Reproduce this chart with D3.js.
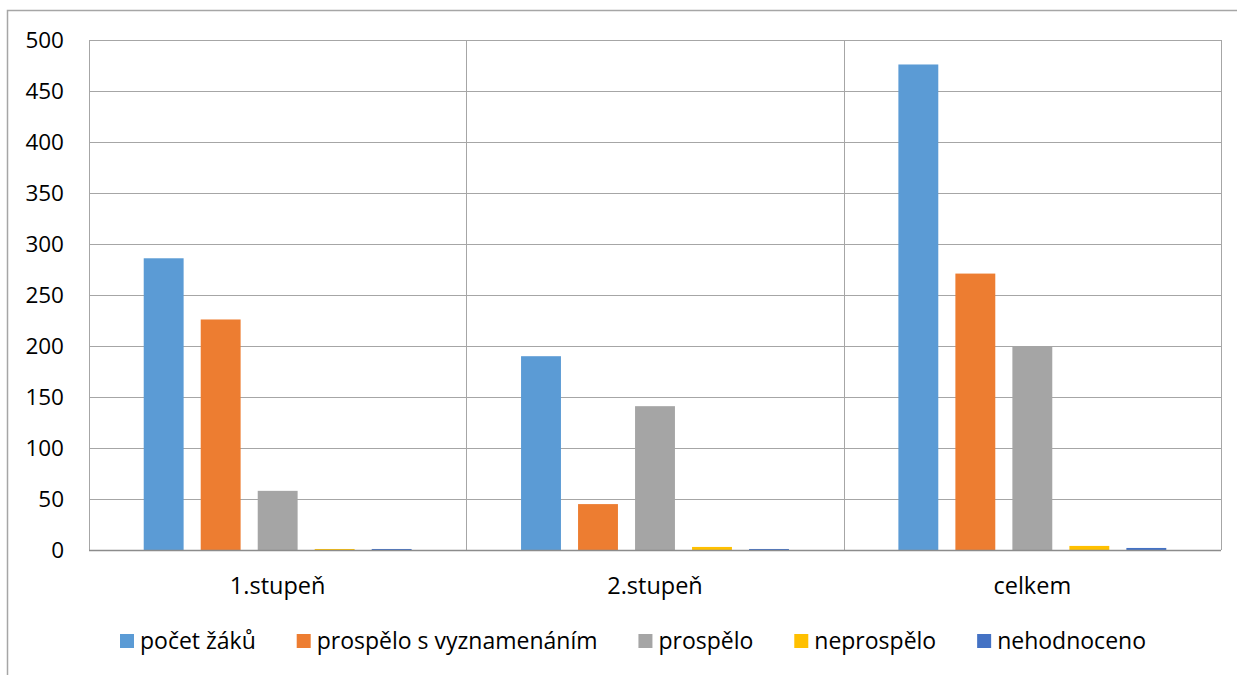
<!DOCTYPE html>
<html>
<head>
<meta charset="utf-8">
<script src="https://cdn.jsdelivr.net/npm/d3@7"></script>
<style>
  body { margin: 0; background: #fff; }
  svg { display: block; font-family: "Open Sans", "Noto Sans", sans-serif; }
</style>
</head>
<body>
<svg class="svg" width="1237" height="675"></svg>
<script>
// kategorie
const categories = ["1.stupeň", "2.stupeň", "celkem"];
const seriesNames = ["počet žáků", "prospělo s vyznamenáním", "prospělo", "neprospělo", "nehodnoceno"];
const seriesColors = ["#5B9BD5", "#ED7D31", "#A5A5A5", "#FFC000", "#4472C4"];

// hodnoty podle kategorií
const pocetZaku = [286, 190, 476];
const vyznamenani = [226, 45, 271];
const prospelo = [58, 141, 200];
const neprospelo = [1, 3, 4];
const nehodnoceno = [1, 1, 2];
const yTicks = [0, 50, 100, 150, 200, 250, 300, 350, 400, 450, 500];

const values = [pocetZaku, vyznamenani, prospelo, neprospelo, nehodnoceno];

const svg = d3.select(".svg");
const W = 1237, H = 675;
const plot = { left: 89, right: 1221, top: 40, bottom: 550 };
const fs = 22.5;

// vnější rámeček
svg.append("path")
    .attr("d", `M7.5,${H} V10.5 H${W}`)
    .attr("fill", "none")
    .attr("stroke", "#A6A6A6")
    .attr("stroke-width", 1.5);

const x0 = d3.scaleBand()
    .domain(categories)
    .range([plot.left, plot.right])
    .padding(0);

const x1 = d3.scaleBand()
    .domain(seriesNames)
    .range([0, x0.bandwidth()])
    .paddingInner(0.3)
    .paddingOuter(0.96);

const y = d3.scaleLinear()
    .domain([0, 500])
    .range([plot.bottom, plot.top]);

// mřížka
svg.append("g").selectAll("line")
    .data(yTicks)
    .enter()
    .append("line")
    .attr("x1", plot.left)
    .attr("x2", plot.right)
    .attr("y1", d => Math.round(y(d)) + 0.5)
    .attr("y2", d => Math.round(y(d)) + 0.5)
    .attr("stroke", "#A6A6A6")
    .attr("stroke-width", 1);

// svislé čáry mezi kategoriemi
svg.append("g").selectAll("line")
    .data(categories.concat(["end"]))
    .enter()
    .append("line")
    .attr("x1", (d, i) => Math.round(plot.left + i * x0.step()) + 0.5)
    .attr("x2", (d, i) => Math.round(plot.left + i * x0.step()) + 0.5)
    .attr("y1", plot.top)
    .attr("y2", plot.bottom)
    .attr("stroke", "#A6A6A6")
    .attr("stroke-width", 1);

// sloupce
const groups = svg.append("g").selectAll("g")
    .data(categories)
    .enter()
    .append("g")
    .attr("transform", d => `translate(${x0(d)},0)`);

groups.selectAll("rect")
    .data((c, ci) => seriesNames.map((s, si) => ({ s, v: values[si][ci], color: seriesColors[si] })))
    .enter()
    .append("rect")
    .attr("x", d => x1(d.s))
    .attr("width", x1.bandwidth())
    .attr("y", d => y(d.v))
    .attr("height", d => y(0) - y(d.v))
    .attr("fill", d => d.color);

// osa x
svg.append("line")
    .attr("x1", plot.left)
    .attr("x2", plot.right)
    .attr("y1", plot.bottom + 0.5)
    .attr("y2", plot.bottom + 0.5)
    .attr("stroke", "#8C8C8C")
    .attr("stroke-width", 1.5);

// popisky osy y
svg.append("g").selectAll("text")
    .data(yTicks)
    .enter()
    .append("text")
    .attr("x", 64)
    .attr("y", d => y(d))
    .attr("dy", "0.35em")
    .attr("text-anchor", "end")
    .attr("font-size", fs)
    .attr("fill", "#000")
    .text(d => d);

// popisky kategorií
svg.append("g").selectAll("text")
    .data(categories)
    .enter()
    .append("text")
    .attr("x", d => x0(d) + x0.bandwidth() / 2)
    .attr("y", 586)
    .attr("dy", "0.35em")
    .attr("text-anchor", "middle")
    .attr("font-size", 23.5)
    .text(d => d);

// legenda
const legend = svg.append("g");
const items = legend.selectAll("g")
    .data(seriesNames)
    .enter()
    .append("g");
items.append("rect")
    .attr("width", 14)
    .attr("height", 14)
    .attr("y", 634)
    .attr("fill", (d, i) => seriesColors[i]);
items.append("text")
    .attr("x", 20)
    .attr("y", 641)
    .attr("dy", "0.35em")
    .attr("font-size", 23)
    .text(d => d);

const widths = [];
items.each(function () {
    const w = d3.select(this).select("text").node().getComputedTextLength();
    widths.push(20 + w);
});
// legenda od 120 do 1146
const gap = (1146 - 120 - d3.sum(widths)) / (widths.length - 1);
let xpos = 120;
items.attr("transform", (d, i) => {
    const t = `translate(${xpos},0)`;
    xpos += widths[i] + gap;
    return t;
});
</script>
</body>
</html>
